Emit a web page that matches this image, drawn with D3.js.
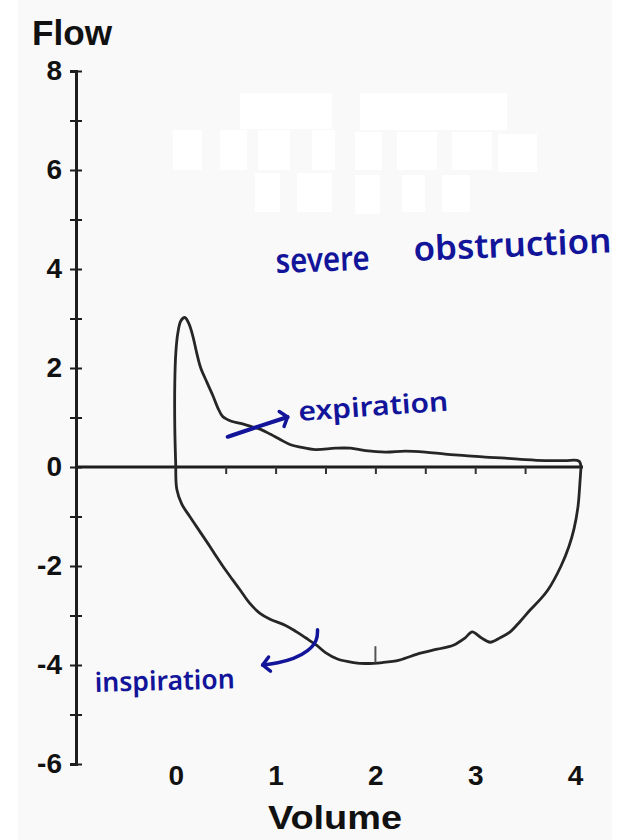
<!DOCTYPE html>
<html>
<head>
<meta charset="utf-8">
<script src="https://cdn.jsdelivr.net/npm/d3@7"></script>
<style>
  html, body { margin: 0; padding: 0; background: #ffffff; }
  svg { display: block; }
  .hand { font-family: "Noto Sans", "Open Sans", sans-serif; font-weight: 600; fill: #12149a; }
</style>
</head>
<body>
<svg id="chart" width="639" height="840"></svg>
<script>
// Flow–volume loop, severe obstruction
const yTickValues = [-6, -5, -4, -3, -2, -1, 0, 1, 2, 3, 4, 5, 6, 7, 8];
const yTickLabels = [-6, -4, -2, 0, 2, 4, 6, 8];
const xTickLabels = [0, 1, 2, 3, 4];
const zeroLineTicks = [0.5, 1, 1.5, 2, 2.5, 3, 3.5];

// expiratory limb: volume (L) and flow (L/s)
const expVolume = [0.00, -0.01, -0.01, 0.00, 0.02, 0.05, 0.09, 0.13, 0.17, 0.21, 0.25, 0.31, 0.37, 0.42, 0.47, 0.55, 0.65, 0.75, 0.85, 0.95, 1.05, 1.15, 1.25, 1.40, 1.60, 1.75, 1.90, 2.10, 2.30, 2.50, 2.70, 2.90, 3.10, 3.30, 3.50, 3.70, 3.90, 4.04, 4.06];
const expFlow   = [0.00, 0.80, 1.70, 2.30, 2.70, 2.95, 3.02, 2.90, 2.65, 2.30, 2.00, 1.72, 1.45, 1.20, 1.02, 0.93, 0.88, 0.82, 0.76, 0.66, 0.55, 0.45, 0.40, 0.35, 0.38, 0.38, 0.33, 0.30, 0.32, 0.30, 0.26, 0.23, 0.20, 0.18, 0.15, 0.13, 0.13, 0.12, 0.00];

// inspiratory limb
const inspVolume = [4.06, 4.05, 4.03, 3.99, 3.94, 3.86, 3.73, 3.64, 3.55, 3.45, 3.35, 3.25, 3.15, 3.06, 2.97, 2.90, 2.78, 2.62, 2.45, 2.24, 2.07, 1.90, 1.78, 1.62, 1.50, 1.41, 1.30, 1.21, 1.10, 0.95, 0.84, 0.74, 0.65, 0.57, 0.47, 0.41, 0.34, 0.24, 0.14, 0.06, 0.01, 0.00];
const inspFlow   = [0.00, -0.30, -0.80, -1.25, -1.60, -2.00, -2.48, -2.70, -2.89, -3.12, -3.33, -3.45, -3.54, -3.45, -3.33, -3.45, -3.60, -3.68, -3.76, -3.90, -3.95, -3.97, -3.95, -3.88, -3.75, -3.60, -3.45, -3.33, -3.20, -3.08, -2.95, -2.75, -2.50, -2.28, -2.00, -1.82, -1.60, -1.30, -1.00, -0.75, -0.45, 0.00];

// calibration mark on the inspiratory limb
const markVolume = [2.0, 2.0];
const markFlow = [-3.95, -3.62];

// annotation arrows (volume, flow)
const expArrowVolume = [0.52, 0.80, 1.12];
const expArrowFlow   = [0.61, 0.80, 1.01];
const inspArrowVolume = [1.42, 1.42, 1.33, 1.18, 1.02, 0.87];
const inspArrowFlow   = [-3.29, -3.50, -3.72, -3.88, -3.96, -4.00];

const svg = d3.select("#chart");
const W = 639, H = 840;

// scanned-page background with erased patches
svg.append("rect").attr("x", 18).attr("y", 0).attr("width", 594).attr("height", H).attr("fill", "#f9f9f9");
const patches = [
  [240, 93, 92, 36], [360, 93, 147, 37],
  [173, 130, 29, 40], [220, 130, 27, 40], [258, 130, 32, 40], [312, 130, 23, 40],
  [355, 132, 27, 38], [397, 132, 40, 38], [452, 132, 40, 38], [498, 134, 39, 38],
  [255, 173, 25, 39], [297, 173, 35, 39], [355, 175, 25, 39], [402, 175, 23, 37], [442, 175, 28, 37]
];
svg.append("g").selectAll("rect").data(patches).join("rect")
  .attr("x", d => d[0]).attr("y", d => d[1]).attr("width", d => d[2]).attr("height", d => d[3])
  .attr("fill", "#ffffff");

const x = d3.scaleLinear().domain([-1, 4]).range([76, 575]);
const y = d3.scaleLinear().domain([-6, 8]).range([764, 71]);

const ink = "#1e1e1e";
const tickFont = '"Liberation Sans", Arial, sans-serif';

// y axis with crossing ticks
const yAxis = svg.append("g").attr("transform", `translate(${x(-1)},0)`)
  .call(d3.axisLeft(y).tickValues(yTickValues).tickSizeOuter(0).tickSize(6).tickPadding(8)
    .tickFormat(d => yTickLabels.includes(d) ? String(d) : ""));
yAxis.select(".domain").attr("stroke", ink).attr("stroke-width", 3);
yAxis.selectAll(".tick line").attr("x1", 6).attr("stroke", ink).attr("stroke-width", 2);
yAxis.selectAll(".tick text")
  .attr("font-family", tickFont).attr("font-weight", "bold").attr("font-size", 28).attr("fill", "#111");

// zero-flow line with small volume ticks
svg.append("line").attr("x1", x(-1)).attr("x2", x(4.08)).attr("y1", y(0)).attr("y2", y(0))
  .attr("stroke", ink).attr("stroke-width", 3);
const zAxis = svg.append("g").attr("transform", `translate(0,${y(0)})`)
  .call(d3.axisBottom(x).tickValues(zeroLineTicks).tickSize(7).tickFormat(""));
zAxis.select(".domain").remove();
zAxis.selectAll(".tick line").attr("stroke", "#333").attr("stroke-width", 2);

// volume labels below the plot
const xAxis = svg.append("g").attr("transform", `translate(0,${y(-6)})`)
  .call(d3.axisBottom(x).tickValues(xTickLabels).tickSize(0).tickPadding(1).tickFormat(d => String(d)));
xAxis.select(".domain").remove();
xAxis.selectAll(".tick text")
  .attr("font-family", tickFont).attr("font-weight", "bold").attr("font-size", 28).attr("fill", "#111");

// axis titles
svg.append("text").attr("x", 32).attr("y", 45).text("Flow")
  .attr("font-family", tickFont).attr("font-weight", "bold").attr("font-size", 35)
  .attr("textLength", 80).attr("lengthAdjust", "spacingAndGlyphs").attr("fill", "#111");
svg.append("text").attr("x", 335).attr("y", 829).attr("text-anchor", "middle").text("Volume")
  .attr("font-family", tickFont).attr("font-weight", "bold").attr("font-size", 34)
  .attr("textLength", 134).attr("lengthAdjust", "spacingAndGlyphs").attr("fill", "#111");

// loop
const line = d3.line().x(d => x(d[0])).y(d => y(d[1])).curve(d3.curveCatmullRom.alpha(0.5));
const expPts = expVolume.map((v, i) => [v, expFlow[i]]);
const inspPts = inspVolume.map((v, i) => [v, inspFlow[i]]);
[expPts, inspPts].forEach(pts => {
  svg.append("path").attr("d", line(pts)).attr("fill", "none")
    .attr("stroke", "#262626").attr("stroke-width", 2.8)
    .attr("stroke-linejoin", "round").attr("stroke-linecap", "round");
});
svg.append("path").attr("d", d3.line().x(d => x(d[0])).y(d => y(d[1]))(markVolume.map((v, i) => [v, markFlow[i]])))
  .attr("stroke", "#555").attr("stroke-width", 2);

// handwritten annotations
const blue = "#12149a";
svg.append("text").attr("class", "hand").attr("x", 276).attr("y", 273).attr("font-size", 34)
  .attr("textLength", 94).attr("lengthAdjust", "spacingAndGlyphs").attr("transform", "rotate(-2 276 273)").text("severe");
svg.append("text").attr("class", "hand").attr("x", 414).attr("y", 261).attr("font-size", 34)
  .attr("textLength", 198).attr("lengthAdjust", "spacingAndGlyphs").attr("transform", "rotate(-2.5 414 261)").text("obstruction");
svg.append("text").attr("class", "hand").attr("x", 299).attr("y", 421).attr("font-size", 27)
  .attr("textLength", 150).attr("lengthAdjust", "spacingAndGlyphs").attr("transform", "rotate(-4 299 421)").text("expiration");
svg.append("text").attr("class", "hand").attr("x", 95).attr("y", 692).attr("font-size", 27)
  .attr("textLength", 140).attr("lengthAdjust", "spacingAndGlyphs").attr("transform", "rotate(-1.5 95 692)").text("inspiration");

const arrowLine = d3.line().x(d => x(d[0])).y(d => y(d[1])).curve(d3.curveBasis);
const expArrow = expArrowVolume.map((v, i) => [v, expArrowFlow[i]]);
const inspArrow = inspArrowVolume.map((v, i) => [v, inspArrowFlow[i]]);
svg.append("path").attr("d", arrowLine(expArrow)).attr("fill", "none")
  .attr("stroke", blue).attr("stroke-width", 4).attr("stroke-linecap", "round");
svg.append("path").attr("d", arrowLine(inspArrow)).attr("fill", "none")
  .attr("stroke", blue).attr("stroke-width", 3.5).attr("stroke-linecap", "round");

// arrow heads
function head(tip, back, spread) {
  const [tx, ty] = [x(tip[0]), y(tip[1])];
  const [bx, by] = [x(back[0]), y(back[1])];
  const a = Math.atan2(ty - by, tx - bx);
  const len = 10;
  const p1 = [tx - len * Math.cos(a - spread), ty - len * Math.sin(a - spread)];
  const p2 = [tx - len * Math.cos(a + spread), ty - len * Math.sin(a + spread)];
  svg.append("path").attr("d", `M${p1}L${tx},${ty}L${p2}`).attr("fill", "none")
    .attr("stroke", blue).attr("stroke-width", 3.5).attr("stroke-linecap", "round").attr("stroke-linejoin", "round");
}
head(expArrow[2], expArrow[1], 0.9);
head(inspArrow[5], inspArrow[4], 0.8);
</script>
</body>
</html>
